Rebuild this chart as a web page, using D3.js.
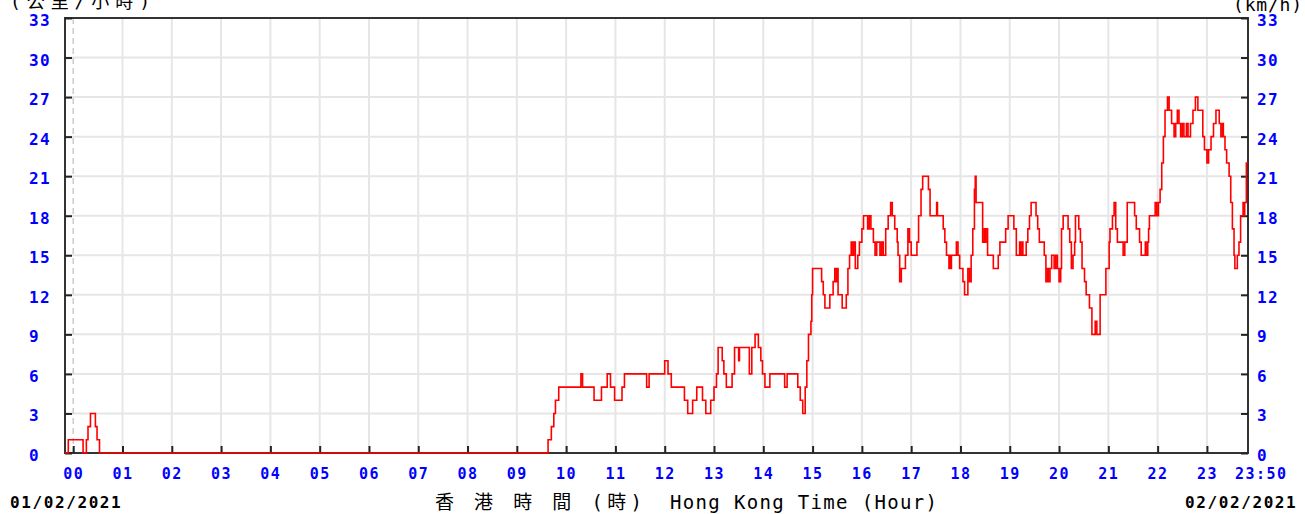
<!DOCTYPE html>
<html>
<head>
<meta charset="utf-8">
<script src="https://cdn.jsdelivr.net/npm/d3@7"></script>
<style>
  body { margin: 0; background: #fff; }
  svg text { font-family: "DejaVu Sans Mono", "Noto Sans CJK TC", monospace; }
  .lbl { fill: #0000ff; font-weight: bold; font-size: 16px; letter-spacing: 1.4px; }
  .hr { fill: #0000ff; font-weight: bold; font-size: 15px; letter-spacing: 1.5px; }
  .date { fill: #000; font-weight: bold; font-size: 16px; letter-spacing: 1.6px; }
  .ttl { fill: #000; font-size: 19px; }
  .unit { fill: #000; font-size: 18px; }
</style>
</head>
<body>
<svg id="chart" width="1305" height="514"></svg>
<script>
// 10-min wind speed (km/h), as step changes: [minutes after 00:00, value]
const nightWind = [[-10,0],[-6,1],[12,0],[16,1],[18,2],[21,3],[27,2],[29,1],[32,0]];

const morningWind = [[578,1],[582,2],[585,3],[587,4],[591,5],[618,6],[620,5],[634,4],[643,5],[650,6],[654,5],
  [659,4],[668,5],[671,6],[698,5],[701,6],[720,7],[724,6],[728,5],[744,4],[748,3],[754,4],[759,5],[766,4],
  [770,3],[776,4],[780,5],[783,6],[785,8],[790,7],[792,6],[795,5],[802,6],[805,8],[810,7],[811,8],[823,6],
  [826,8],[830,9],[834,8],[837,7],[839,6],[842,5],[848,6],[866,5],[869,6],[882,5],[885,4],[888,3],[891,5],
  [893,7],[895,9]];

const afternoonWind = [[896,9],[898,10],[899,12],[900,14],[911,13],[913,12],[915,11],[921,12],[925,13],[927,14],
  [929,13],[930,14],[931,12],[936,11],[941,12],[943,14],[945,15],[947,16],[949,15],[950,16],[952,14],[955,15],
  [957,16],[960,17],[962,18],[967,17],[969,18],[971,17],[974,16],[976,15],[978,16],[982,15],[984,16],[986,15],
  [989,17],[992,18],[995,19],[997,18],[1000,17],[1003,16],[1004,15],[1006,13],[1008,14],[1013,15],[1016,17],
  [1018,16],[1020,15],[1027,16],[1029,18],[1032,20],[1034,21],[1041,20],[1043,18],[1051,19],[1052,18],[1059,17],
  [1061,16],[1063,15],[1066,14],[1067,15],[1068,14],[1069,15],[1075,16],[1077,15],[1079,14],[1083,13],[1085,12],
  [1089,14],[1091,13],[1093,15],[1095,17],[1097,20],[1098,21],[1099,19],[1107,16],[1109,17],[1110,16],[1111,17],
  [1113,15],[1120,14],[1126,15],[1128,16],[1135,17],[1138,18],[1145,17],[1148,15],[1152,16],[1153,15],[1155,16],
  [1156,15],[1160,16],[1162,17],[1164,18],[1166,19],[1172,18],[1174,17],[1176,16]];

const eveningWind = [[1178,16],[1182,15],[1184,13],[1186,14],[1187,13],[1189,14],[1191,15],[1194,14],[1196,15],
  [1198,14],[1200,13],[1202,14],[1203,17],[1205,18],[1211,17],[1213,16],[1215,14],[1217,15],[1219,16],[1220,18],
  [1224,17],[1226,16],[1228,14],[1231,13],[1233,12],[1237,11],[1240,9],[1244,10],[1246,9],[1250,12],[1257,14],
  [1261,16],[1262,17],[1265,18],[1267,19],[1269,17],[1271,16],[1278,15],[1280,16],[1283,19],[1292,18],[1294,17],
  [1298,16],[1300,15],[1305,16],[1306,15],[1308,16],[1309,17],[1310,18],[1317,19],[1319,18],[1321,19],[1323,20],
  [1325,22],[1327,24],[1329,26],[1332,27],[1334,26],[1337,25],[1340,24],[1342,25],[1344,26],[1346,25],[1348,24],
  [1350,25],[1352,24],[1355,25],[1357,24],[1360,25],[1363,26],[1366,27],[1369,26],[1375,24],[1377,23],[1380,22],
  [1382,23],[1385,24],[1388,25],[1391,26],[1395,25],[1397,24],[1399,25],[1400,24],[1402,23],[1404,22],[1407,21],
  [1409,19],[1411,17],[1413,15],[1414,14],[1417,15],[1419,16],[1421,18],[1424,19],[1425,18],[1426,19],[1428,22],
  [1430,22]];

const hourTicks = d3.range(0, 24);
const hourLabels = hourTicks.map(h => String(h).padStart(2, "0"));
const endLabel = "23:50";
const speedTicks = d3.range(0, 34, 3);
const dateStart = "01/02/2021";
const dateEnd = "02/02/2021";
const titleZh = "香 港 時 間 (時)";
const titleEn = "Hong Kong Time (Hour)";
const unitZh = "(公里/小時)";
const unitEn = "(km/h)";

const svg = d3.select("#chart");
const margin = {left: 65, right: 1248, top: 18, bottom: 453};

const x = d3.scaleLinear().domain([-10, 1430]).range([margin.left, margin.right]);
const y = d3.scaleLinear().domain([0, 33]).range([margin.bottom, margin.top]);

// grid
svg.append("g").selectAll("line").data(hourTicks.slice(1)).join("line")
  .attr("x1", d => x(d * 60)).attr("x2", d => x(d * 60))
  .attr("y1", margin.top).attr("y2", margin.bottom)
  .attr("stroke", "#e6e6e6").attr("stroke-width", 2);
svg.append("g").selectAll("line").data(speedTicks.slice(1, -1)).join("line")
  .attr("x1", margin.left).attr("x2", margin.right)
  .attr("y1", d => y(d)).attr("y2", d => y(d))
  .attr("stroke", "#e6e6e6").attr("stroke-width", 2);

// day start marker
svg.append("line")
  .attr("x1", x(0)).attr("x2", x(0)).attr("y1", margin.top).attr("y2", margin.bottom)
  .attr("stroke", "#cccccc").attr("stroke-width", 1.5).attr("stroke-dasharray", "6,4");

// frame
svg.append("rect")
  .attr("x", margin.left).attr("y", margin.top)
  .attr("width", margin.right - margin.left).attr("height", margin.bottom - margin.top)
  .attr("fill", "none").attr("stroke", "#333").attr("stroke-width", 2);

// axes (ticks pointing inwards)
const xAxis = d3.axisBottom(x).tickValues(hourTicks.map(h => h * 60)).tickSize(-7).tickSizeOuter(0).tickFormat("");
const yLeft = d3.axisLeft(y).tickValues(speedTicks).tickSize(-7).tickSizeOuter(0).tickFormat("");
const yRight = d3.axisRight(y).tickValues(speedTicks).tickSize(-7).tickSizeOuter(0).tickFormat("");

svg.append("g").attr("transform", "translate(0," + margin.bottom + ")").call(xAxis);
svg.append("g").attr("transform", "translate(" + margin.left + ",0)").call(yLeft);
svg.append("g").attr("transform", "translate(" + margin.right + ",0)").call(yRight);
svg.selectAll(".domain").remove();
svg.selectAll(".tick line").attr("stroke", "#222").attr("stroke-width", 2);

// tick labels
svg.append("g").selectAll("text").data(speedTicks).join("text")
  .attr("class", "lbl").attr("x", 29).attr("y", d => y(d) + 8).text(d => d);
svg.append("g").selectAll("text").data(speedTicks).join("text")
  .attr("class", "lbl").attr("x", 1257).attr("y", d => y(d) + 8).text(d => d);
svg.append("g").selectAll("text").data(hourTicks).join("text")
  .attr("class", "hr").attr("text-anchor", "middle")
  .attr("x", d => x(d * 60) + 0.5).attr("y", 479).text((d, i) => hourLabels[i]);
svg.append("text").attr("class", "hr").attr("x", 1235).attr("y", 479).text(endLabel);

// wind line
const wind = nightWind.concat(morningWind, afternoonWind, eveningWind);
const line = d3.line()
  .x(d => x(d[0]))
  .y(d => y(d[1]))
  .curve(d3.curveStepAfter);
svg.append("path")
  .datum(wind)
  .attr("fill", "none")
  .attr("stroke", "#ff0000")
  .attr("stroke-width", 1.6)
  .attr("d", line);

// bottom texts
svg.append("text").attr("class", "date").attr("x", 10).attr("y", 508).text(dateStart);
svg.append("text").attr("class", "date").attr("x", 1185).attr("y", 508).text(dateEnd);
svg.append("text").attr("class", "ttl").attr("x", 435).attr("y", 509)
  .attr("textLength", 207).attr("lengthAdjust", "spacing").text(titleZh);
svg.append("text").attr("class", "ttl").attr("x", 670).attr("y", 509)
  .attr("textLength", 267).attr("lengthAdjust", "spacing").text(titleEn);

// units (top edge cuts them)
svg.append("text").attr("class", "unit").attr("x", 10).attr("y", 8)
  .attr("textLength", 140).attr("lengthAdjust", "spacing").text(unitZh);
svg.append("text").attr("class", "unit").attr("x", 1233).attr("y", 11)
  .attr("textLength", 69).attr("lengthAdjust", "spacing").text(unitEn);
</script>
</body>
</html>
